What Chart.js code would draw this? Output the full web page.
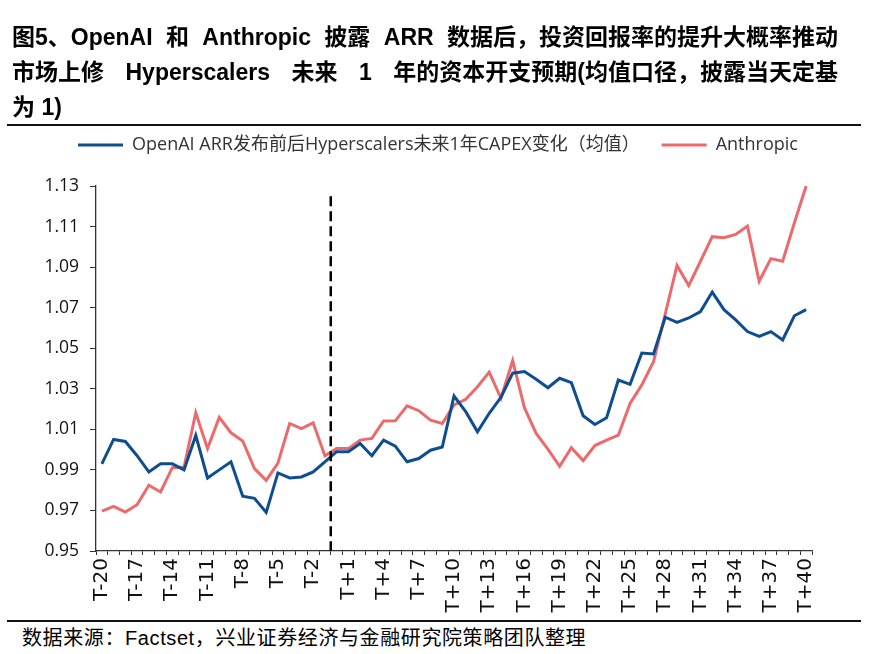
<!DOCTYPE html>
<html>
<head>
<meta charset="utf-8">
<script src="https://cdn.jsdelivr.net/npm/chart.js@4.4.1/dist/chart.umd.min.js"></script>
<style>
  body { margin: 0; width: 876px; height: 654px; background: #fff; position: relative; overflow: hidden; }
  #title { position: absolute; left: 12px; top: 20px; width: 840px; color: #000;
           font: bold 23px/35px "Liberation Sans", "Noto Sans CJK SC", sans-serif; z-index: 2; }
  #title div { white-space: nowrap; }
  #title span { display: inline-block; }
  .rule { position: absolute; left: 7px; width: 854px; border-top: 2px solid #111; }
  #wrap { position: absolute; left: 0; top: 112px; width: 876px; height: 508px; z-index: 1; }
  #source { position: absolute; left: 22px; top: 626px; color: #000; letter-spacing: 0.6px;
            font: 20px/24px "Liberation Sans", "Noto Sans CJK SC", sans-serif; }
</style>
</head>
<body>
<div id="title">
  <div><span class="j">图5、OpenAI 和 Anthropic 披露 ARR 数据后，投资回报率的提升大概率推动</span></div>
  <div><span class="j">市场上修 Hyperscalers 未来 1 年的资本开支预期(均值口径，披露当天定基</span></div>
  <div><span>为 1)</span></div>
</div>
<div class="rule" style="top:124px"></div>
<div id="wrap"><canvas id="chart" width="876" height="508"></canvas></div>
<div class="rule" style="top:620px"></div>
<div id="source">数据来源：Factset，兴业证券经济与金融研究院策略团队整理</div>

<script>
// 事件窗口 T-20 ... T+40
const days = [
  'T-20','T-19','T-18','T-17','T-16','T-15','T-14','T-13','T-12','T-11',
  'T-10','T-9','T-8','T-7','T-6','T-5','T-4','T-3','T-2','T-1',
  'T0','T+1','T+2','T+3','T+4','T+5','T+6','T+7','T+8','T+9',
  'T+10','T+11','T+12','T+13','T+14','T+15','T+16','T+17','T+18','T+19',
  'T+20','T+21','T+22','T+23','T+24','T+25','T+26','T+27','T+28','T+29',
  'T+30','T+31','T+32','T+33','T+34','T+35','T+36','T+37','T+38','T+39',
  'T+40'
];

// OpenAI ARR 发布前后 Hyperscalers 未来1年CAPEX变化（均值）
const openaiCapex = [
  0.993, 1.005, 1.004, 0.997, 0.989, 0.993, 0.993, 0.990, 1.007, 0.986,
  0.990, 0.994, 0.977, 0.976, 0.969, 0.9885, 0.986, 0.9865, 0.989, 0.994,
  0.999, 0.999, 1.003, 0.997, 1.0047, 1.0017, 0.994, 0.9956, 0.9997, 1.0013,
  1.0264, 1.0187, 1.0088, 1.0179, 1.0258, 1.0377, 1.0385, 1.0347, 1.0305, 1.0352,
  1.033, 1.0167, 1.0124, 1.0157, 1.0343, 1.0322, 1.0476, 1.0472, 1.0653, 1.0627,
  1.0649, 1.0681, 1.0777, 1.069, 1.064, 1.0582, 1.0558, 1.0582, 1.0541, 1.066,
  1.069
];

// Anthropic
const anthropicCapex = [
  0.9697, 0.972, 0.9692, 0.9728, 0.9824, 0.9791, 0.9911, 0.9914, 1.0182, 1.0005,
  1.0159, 1.0083, 1.0043, 0.9906, 0.9848, 0.9934, 1.0129, 1.0104, 1.0132, 0.997,
  1.0005, 1.0005, 1.0047, 1.0055, 1.0141, 1.0142, 1.0216, 1.0192, 1.0145, 1.0129,
  1.022, 1.0248, 1.031, 1.0382, 1.0253, 1.0439, 1.0207, 1.008, 1.0002, 0.9918,
  1.0009, 0.9946, 1.002, 1.0047, 1.0071, 1.0228, 1.0319, 1.0434, 1.067, 1.0908,
  1.0809, 1.0929, 1.105, 1.1045, 1.1061, 1.1102, 1.083, 1.0942, 1.0929, 1.1119,
  1.13
];

const seriesNames = ['OpenAI ARR发布前后Hyperscalers未来1年CAPEX变化（均值）', 'Anthropic'];
const yTicks = [0.95, 1.13, 0.02];   // min, max, step

const BLUE = '#0e4d8f';
const RED = '#ec6a6c';

// 标题前两行撑满到右端：只加宽空格
document.querySelectorAll('#title .j').forEach(el => {
  const spaces = (el.textContent.match(/ /g) || []).length;
  const extra = 826 - el.getBoundingClientRect().width;
  if (spaces && extra > 0) el.style.wordSpacing = (extra / spaces) + 'px';
});

// 披露日竖虚线（T-1 与 T0 之间）
const eventLine = {
  id: 'eventLine',
  afterDatasetsDraw(chart) {
    const { ctx, chartArea, scales: { x, y } } = chart;
    const px = (x.getPixelForValue(19) + x.getPixelForValue(20)) / 2;
    ctx.save();
    ctx.strokeStyle = '#000';
    ctx.lineWidth = 2.5;
    ctx.setLineDash([10, 5]);
    ctx.beginPath();
    ctx.moveTo(px, y.getPixelForValue(1.125));
    ctx.lineTo(px, chartArea.bottom);
    ctx.stroke();
    ctx.restore();
  }
};

// 图例与绘图区之间留白
const legendGap = {
  id: 'legendGap',
  beforeInit(chart) {
    const fit = chart.legend.fit;
    chart.legend.fit = function () {
      fit.bind(chart.legend)();
      this.height += 22;
    };
  }
};

new Chart(document.getElementById('chart'), {
  type: 'line',
  data: {
    labels: days,
    datasets: [
      { label: seriesNames[0], data: openaiCapex, borderColor: BLUE, backgroundColor: BLUE },
      { label: seriesNames[1], data: anthropicCapex, borderColor: RED, backgroundColor: RED }
    ]
  },
  options: {
    responsive: false,
    animation: false,
    layout: { padding: { left: 0, right: 0, top: 2, bottom: 0 } },
    elements: {
      line: { borderWidth: 3, tension: 0 },
      point: { radius: 0 }
    },
    plugins: {
      tooltip: { enabled: false },
      legend: {
        position: 'top',
        labels: {
          boxWidth: 45,
          boxHeight: 3,
          padding: 22,
          color: '#333',
          font: { family: "'Open Sans', 'Noto Sans CJK SC', sans-serif", size: 18 },
          generateLabels(chart) {
            const items = Chart.defaults.plugins.legend.labels.generateLabels(chart);
            items.forEach(it => { it.lineWidth = 0; it.fillStyle = it.strokeStyle; });
            return items;
          }
        }
      }
    },
    scales: {
      x: {
        offset: true,
        grid: { offset: true, drawOnChartArea: false, tickLength: 4, color: '#333' },
        border: { color: '#333', width: 1.3 },
        ticks: {
          autoSkip: false,
          maxRotation: 90,
          minRotation: 90,
          padding: 3,
          color: '#111',
          font: { family: 'DejaVu Sans', size: 20 },
          callback(v, i) { return i % 3 === 0 ? this.getLabelForValue(v) : ''; }
        },
        afterFit(s) { s.height = 69; }
      },
      y: {
        min: yTicks[0],
        max: yTicks[1],
        grid: { drawOnChartArea: false, tickLength: 6, color: '#333' },
        border: { color: '#333', width: 1.3 },
        ticks: {
          stepSize: yTicks[2],
          padding: 11,
          color: '#111',
          font: { family: 'Open Sans', size: 17.5 },
          callback: v => v.toFixed(2)
        },
        afterFit(s) { s.width = 96; }
      },
      // 右侧留白
      yRight: {
        position: 'right',
        grid: { display: false },
        border: { display: false },
        ticks: { display: false },
        afterFit(s) { s.width = 64; }
      }
    }
  },
  plugins: [eventLine, legendGap]
});
</script>
</body>
</html>
